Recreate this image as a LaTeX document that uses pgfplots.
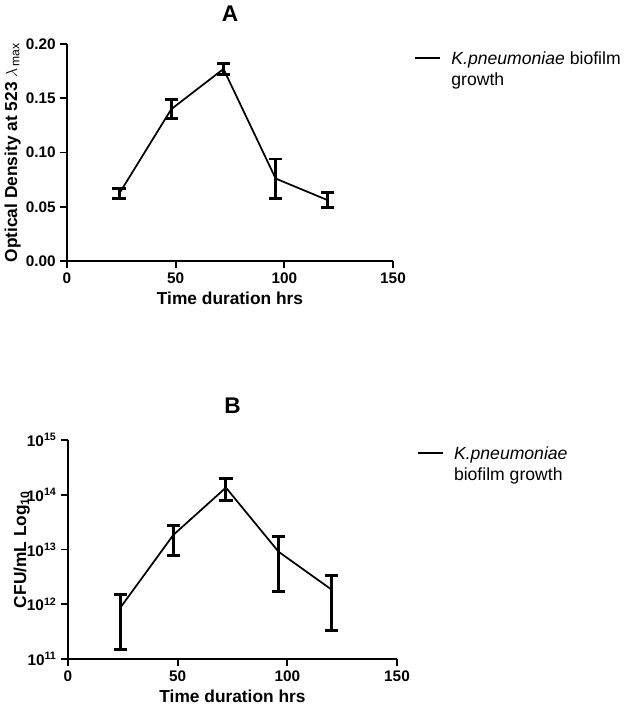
\documentclass[border=0pt]{standalone}
\usepackage{pgfplots}
\pgfplotsset{compat=1.18}
\usepackage{fontspec}
\setmainfont{Liberation Sans}
\begin{document}
\begin{tikzpicture}
\path (0pt,0pt) rectangle (468.75pt,531.75pt);
\pgfplotsset{
  myax/.style={
    scale only axis,
    axis lines=left,
    axis line style={line width=1.5pt,-},
    tick style={line width=1.3pt,black},
    tick align=outside,
    major tick length=5pt,
    minor tick num=0,
    xtick pos=bottom, ytick pos=left,
    xmin=0, xmax=150,
    xtick={0,50,100,150},
    xticklabels={0,50,100,150},
    ticklabel style={font=\fontsize{11.5}{13}\selectfont\bfseries},
    label style={font=\fontsize{13}{15}\selectfont\bfseries},
    xlabel={Time duration hrs},
    title style={font=\fontsize{17}{19}\selectfont\bfseries},
    legend style={draw=none, fill=none, font=\fontsize{13.2}{15.5}\selectfont, row sep=0pt, inner sep=0pt},
    legend image code/.code={\draw[black,line width=1.5pt] (0pt,0pt) -- (18.75pt,0pt); \path[draw=none,fill=none] (0pt,0pt) rectangle (25pt,0.1pt);},
    legend cell align=left,
    clip=false,
  },
  mydata/.style={black, line width=1.3pt, no marks,
    error bars/.cd, y dir=both, y explicit,
    error bar style={line width=2.2pt},
    error mark options={rotate=90, mark size=5pt, line width=2.2pt}},
}
\begin{axis}[myax,
  at={(50.25pt,336pt)}, anchor=south west,
  width=244.5pt, height=162.75pt,
  ymin=0, ymax=0.2,
  ytick={0,0.05,0.10,0.15,0.20},
  yticklabels={0.00,0.05,0.10,0.15,0.20},
  ylabel={Optical Density at 523 $\lambda$\textsubscript{\,\mdseries max}},
  ylabel style={yshift=-3pt},
  title={A}, title style={yshift=7pt},
  legend style={at={(1.065,0.985)}, anchor=north west},
]
\addplot+[mydata] coordinates {
  (24,0.062) +- (0,0.0045)
  (48,0.140) +- (0,0.0085)
  (72,0.177) +- (0,0.005)
  (96,0.076) +- (0,0.018)
  (120,0.056) +- (0,0.007)
};
\addlegendentry{\begin{tabular}[t]{@{}l@{}}\textit{K.pneumoniae} biofilm\\growth\end{tabular}}
\end{axis}

\begin{axis}[myax,
  at={(51pt,37.5pt)}, anchor=south west,
  width=246.75pt, height=164.25pt,
  ymode=log, ymin=1e11, ymax=1e15,
  yminorticks=false,
  ytick={1e11,1e12,1e13,1e14,1e15},
  yticklabels={10\textsuperscript{11},10\textsuperscript{12},10\textsuperscript{13},10\textsuperscript{14},10\textsuperscript{15}},
  ylabel={CFU/mL Log\textsubscript{10}},
  ylabel style={yshift=-9pt},
  title={B}, title style={yshift=10pt},
  legend style={at={(1.06,0.99)}, anchor=north west},
]
\addplot+[mydata] coordinates {
  (24,8.8e11) += (0,6.0e11) -= (0,7.3e11)
  (48,1.84e13) += (0,0.88e13) -= (0,1.05e13)
  (72,1.35e14) += (0,0.65e14) -= (0,0.57e14)
  (96,9.1e12) += (0,8.0e12) -= (0,7.4e12)
  (120,1.87e12) += (0,1.43e12) -= (0,1.54e12)
};
\addlegendentry{\begin{tabular}[t]{@{}l@{}}\textit{K.pneumoniae}\\biofilm growth\end{tabular}}
\end{axis}
\end{tikzpicture}
\end{document}
